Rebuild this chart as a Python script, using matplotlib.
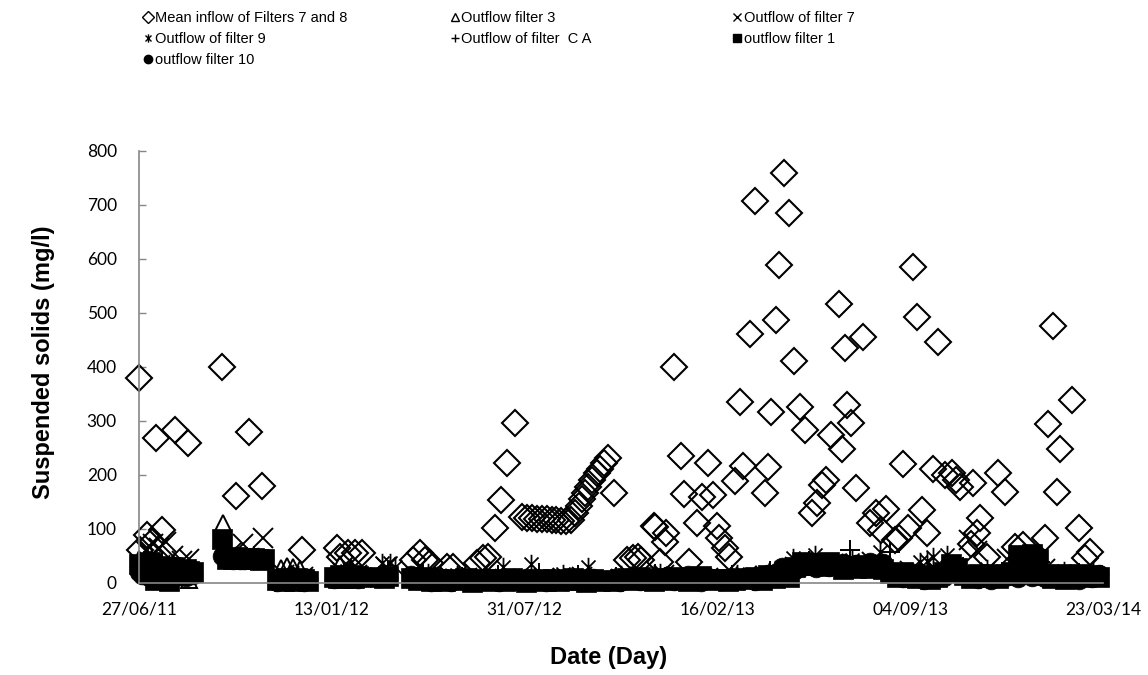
import matplotlib
matplotlib.use("Agg")
import matplotlib.pyplot as plt
from matplotlib.path import Path
from matplotlib.lines import Line2D
import datetime as dt

# Sampling days are counted from the first sampling date
start = dt.date(2011, 6, 27)

# Mean inflow of filters 7 and 8
inflow_days = [0, 1, 8, 13, 18, 24, 37, 51, 86, 101, 114, 128, 169, 205, 209, 217,
               224, 231, 284, 291, 297, 302, 319, 326, 351, 357, 362, 369, 376, 382,
               390, 397, 402, 408, 413, 418, 423, 428, 433, 438, 443, 448, 452, 456,
               460, 463, 466, 470, 475, 478, 482, 487, 493, 506, 512, 518, 521, 534,
               535, 540, 546, 547, 555, 562, 565, 571, 579, 584, 590, 595, 600, 602,
               608, 612, 618, 623, 627, 634, 639, 649, 653, 656, 661, 664, 669, 674,
               679, 686, 691, 698, 703, 708, 713, 718, 726, 729, 732, 734, 739, 744,
               751, 758, 765, 770, 775, 784, 788, 793, 798, 803, 807, 812, 817, 824,
               829, 836, 843, 848, 852, 863, 865, 869, 872, 880, 891, 898, 909, 917,
               940, 943, 948, 952, 955, 968, 975, 981, 987]
inflow_ss = [380, 61, 89, 76, 268, 98, 283, 260, 400, 162, 280, 180, 61, 64, 49, 55,
             55, 55, 42, 55, 42, 37, 30, 30, 37, 46, 49, 101, 154, 223,
             296, 122, 121, 120, 119, 118, 118, 117, 116, 115, 114, 117, 129, 143,
             155, 166, 178, 191, 203, 212, 222, 231, 166, 42, 46, 49, 42, 106,
             104, 39, 76, 93, 400, 236, 165, 39, 111, 160, 223, 163, 106, 83,
             64, 49, 189, 336, 217, 462, 707, 167, 214, 316, 487, 589, 760, 686,
             412, 325, 283, 130, 148, 181, 191, 274, 517, 248, 436, 330, 297, 175,
             455, 111, 129, 98, 137, 80, 83, 220, 101, 585, 493, 135, 92, 212,
             447, 200, 203, 190, 178, 73, 185, 92, 120, 49, 203, 168, 67, 70,
             83, 294, 475, 168, 249, 338, 101, 46, 58]

# Sampling days shared by filters 1 and 10
outflow_days = [0, 3, 7, 10, 14, 17, 21, 24, 28, 31, 35, 38, 42, 45, 49, 52, 56,
                86, 91, 98, 102, 105, 109, 112, 116, 119, 123, 126, 130,
                143, 147, 150, 154, 157, 161, 164, 168, 171, 175,
                202, 206, 209, 213, 216, 220, 223, 227, 230,
                250, 254, 258,
                282, 289, 296, 303, 310, 317, 324, 331, 338, 345, 352, 359, 366,
                373, 380, 387, 394, 401, 408, 415, 422, 429, 436, 443, 450, 457,
                464, 471, 478, 485, 492, 499, 506, 513, 520, 527, 534, 541, 548,
                555, 562, 569, 576, 583, 590, 597, 604, 611, 618, 625, 632, 639,
                646, 653, 660, 667, 674, 681, 688, 695, 702, 709, 716, 723, 730,
                737, 744, 751, 758, 765, 772, 779, 786, 793, 800, 807, 814, 821,
                828, 835, 842, 849, 856, 863, 870, 877, 884, 891, 898, 905, 912,
                919, 926, 933, 940, 947, 954, 961, 968, 975, 982, 989, 996]
filter1_ss = [35, 30, 25, 38, 28, 6, 32, 18, 26, 4, 30, 15, 24, 20, 26, 22, 20,
              82, 45, 44, 48, 46, 45, 47, 44, 46, 45, 43, 44,
              5, 8, 3, 10, 6, 4, 9, 5, 7, 4,
              12, 10, 14, 9, 11, 15, 10, 13, 12,
              12, 10, 13,
              10, 6, 12, 4, 8,
              3, 7, 5, 9, 2, 6, 8, 4, 7, 3, 9, 5, 2, 6, 8, 4, 7, 3, 5, 9, 6, 2,
              8, 4, 6, 3, 7,
              9, 5, 11, 7, 4,
              10, 6, 12, 8, 3, 9, 13, 5, 7,
              8, 4, 6,
              10, 7, 11, 5,
              14, 9, 16, 12,
              30, 38, 35, 37, 32, 38, 34,
              25, 30, 28, 33, 27, 30, 26,
              18, 12, 20, 15,
              10, 14, 8, 12,
              20, 35, 28,
              15, 10, 17, 12, 16, 9, 14,
              20, 52, 46, 53, 44,
              14, 10, 16, 8, 13, 17, 11, 15, 12]
filter10_ss = [20, 15, 28, 12, 18, 10, 14, 5, 16, 12, 10, 18, 14, 16, 12, 18, 15,
               50, 44, 42, 45, 43, 42, 44, 46, 43, 42, 44, 45,
               2, 6, 10, 3, 8, 12, 4, 7, 2, 9,
               8, 15, 10, 12, 16, 9, 14, 8, 11,
               9, 14, 11,
               14, 5, 9, 2, 11,
               6, 2, 8, 4, 10, 3, 5, 7, 1, 8, 4, 6, 9, 3, 5, 2, 8, 6, 4, 7, 1, 5,
               9, 3, 6, 8, 2,
               6, 12, 3, 8, 10,
               5, 13, 4, 9, 14, 6, 2, 11, 8,
               3, 9, 5,
               6, 12, 4, 9,
               17, 10, 29, 22,
               24, 30, 33, 28, 36, 30, 31,
               37, 34, 36, 32, 38, 35, 37,
               22, 16, 10, 20,
               14, 6, 13, 9,
               12, 22, 18,
               17, 12, 8, 14, 6, 16, 11,
               15, 10, 18, 12, 16,
               9, 17, 12, 15, 10, 6, 14, 9, 16]

# Outflow filter 3
filter3_days = [0, 10, 21, 35, 52, 87, 102, 116, 147, 154, 160, 167, 209, 220, 254,
                290, 318, 352, 395, 430, 470, 510, 560, 600, 640, 690, 730, 770,
                812, 850, 890, 930, 970]
filter3_ss = [45, 55, 40, 30, 5, 112, 50, 45, 28, 32, 30, 26, 35, 28, 20,
              15, 12, 10, 8, 12, 10, 14, 12, 9, 16, 30, 35, 32,
              20, 30, 18, 40, 15]

# Outflow of filter 7
filter7_days = [7, 14, 21, 28, 35, 45, 52, 95, 108, 129, 150, 170, 212, 226, 256,
                300, 340, 380, 420, 460, 500, 545, 590, 630, 680, 720, 760, 800,
                830, 861, 869, 900, 940, 980]
filter7_ss = [60, 72, 65, 75, 50, 40, 45, 55, 73, 83, 15, 12, 18, 14, 30,
              12, 10, 8, 10, 12, 8, 14, 10, 12, 30, 35, 38, 22,
              18, 80, 60, 45, 25, 15]

# Outflow of filter 9
filter9_days = [3, 17, 31, 100, 123, 150, 165, 216, 252, 260, 266, 300, 330, 378,
                407, 440, 466, 500, 540, 580, 620, 660, 678, 701, 740, 769, 810,
                817, 824, 838, 880, 920, 960, 990]
filter9_ss = [30, 45, 35, 50, 48, 12, 15, 22, 37, 37, 30, 18, 14, 30,
              36, 16, 30, 15, 18, 14, 16, 24, 46, 52, 42, 57, 39,
              40, 48, 52, 25, 30, 22, 20]

# Outflow of filter C A
filterca_days = [5, 24, 42, 91, 119, 157, 213, 258, 295, 335, 372, 415, 455, 495,
                 535, 575, 615, 655, 695, 738, 779, 820, 855, 895, 935, 975]
filterca_ss = [40, 35, 30, 52, 50, 18, 20, 22, 16, 12, 15, 18, 14, 12,
               16, 12, 14, 22, 40, 61, 57, 24, 30, 20, 38, 18]

tick_days = [0, 200, 400, 600, 800, 1000]


def to_dates(days):
    return [start + dt.timedelta(days=d) for d in days]


# star marker: vertical bar crossed by an X
star = Path([(0, -1), (0, 1), (-0.72, -0.72), (0.72, 0.72), (-0.72, 0.72), (0.72, -0.72)],
            [Path.MOVETO, Path.LINETO] * 3)

series = [
    ("Mean inflow of Filters 7 and 8", inflow_days, inflow_ss,
     dict(marker="D", ms=13.5, mfc="none", mec="black", mew=1.5)),
    ("Outflow filter 3", filter3_days, filter3_ss,
     dict(marker="^", ms=12, mfc="none", mec="black", mew=1.4)),
    ("Outflow of filter 7", filter7_days, filter7_ss,
     dict(marker="x", ms=14, mec="black", mew=1.4)),
    ("Outflow of filter 9", filter9_days, filter9_ss,
     dict(marker=star, ms=14, mec="black", mew=1.3)),
    ("Outflow of filter  C A", filterca_days, filterca_ss,
     dict(marker="+", ms=14, mec="black", mew=1.4)),
    ("outflow filter 1", outflow_days, filter1_ss,
     dict(marker="s", ms=14.5, mfc="black", mec="black", mew=0.5)),
    ("outflow filter 10", outflow_days, filter10_ss,
     dict(marker="o", ms=13.5, mfc="black", mec="black", mew=0.5)),
]

fig = plt.figure(figsize=(11.48, 6.75), dpi=100)
ax = fig.add_axes([0.1211, 0.1363, 0.8397, 0.64])

for label, days, vals, style in series:
    ax.plot(to_dates(days), vals, linestyle="none", clip_on=False, label=label, **style)

ax.set_xlim(start, start + dt.timedelta(days=1000))
ax.set_ylim(0, 800)
ax.set_yticks(range(0, 801, 100))
ax.set_xticks(to_dates(tick_days))
ax.set_xticklabels([d.strftime("%d/%m/%y") for d in to_dates(tick_days)])

for side in ["top", "right"]:
    ax.spines[side].set_visible(False)
for side in ["left", "bottom"]:
    ax.spines[side].set_color("#868686")
    ax.spines[side].set_linewidth(1.2)
ax.tick_params(axis="both", direction="in", length=5, color="#868686", width=1,
               labelsize=12.5)
ax.tick_params(axis="y", pad=16)
ax.tick_params(axis="x", pad=13)
for t in ax.get_xticklabels() + ax.get_yticklabels():
    t.set_family("Lato")

ax.set_ylabel("Suspended solids (mg/l)", fontsize=17, fontweight="bold",
              family="Liberation Sans")
ax.yaxis.set_label_coords(-0.0875, 0.51)
ax.set_xlabel("Date (Day)", fontsize=17, fontweight="bold",
              family="Liberation Sans")
ax.xaxis.set_label_coords(0.4876, -0.145)

# legend laid out as three columns across the top
handles = [Line2D([], [], linestyle="none", **dict(s[3], ms=6, mew=1.0)) for s in series]
labels = [s[0] for s in series]
columns = [(0.1175, [0, 3, 6]), (0.3845, [1, 4]), (0.6305, [2, 5])]
for x0, idx in columns:
    fig.legend([handles[i] for i in idx], [labels[i] for i in idx],
               loc="upper left", bbox_to_anchor=(x0, 0.996), frameon=False,
               handlelength=0.6, handletextpad=0.15, labelspacing=0.48,
               borderaxespad=0.2,
               prop={"family": "Liberation Sans", "size": 10.5})

fig.savefig("out.png", dpi=100)
